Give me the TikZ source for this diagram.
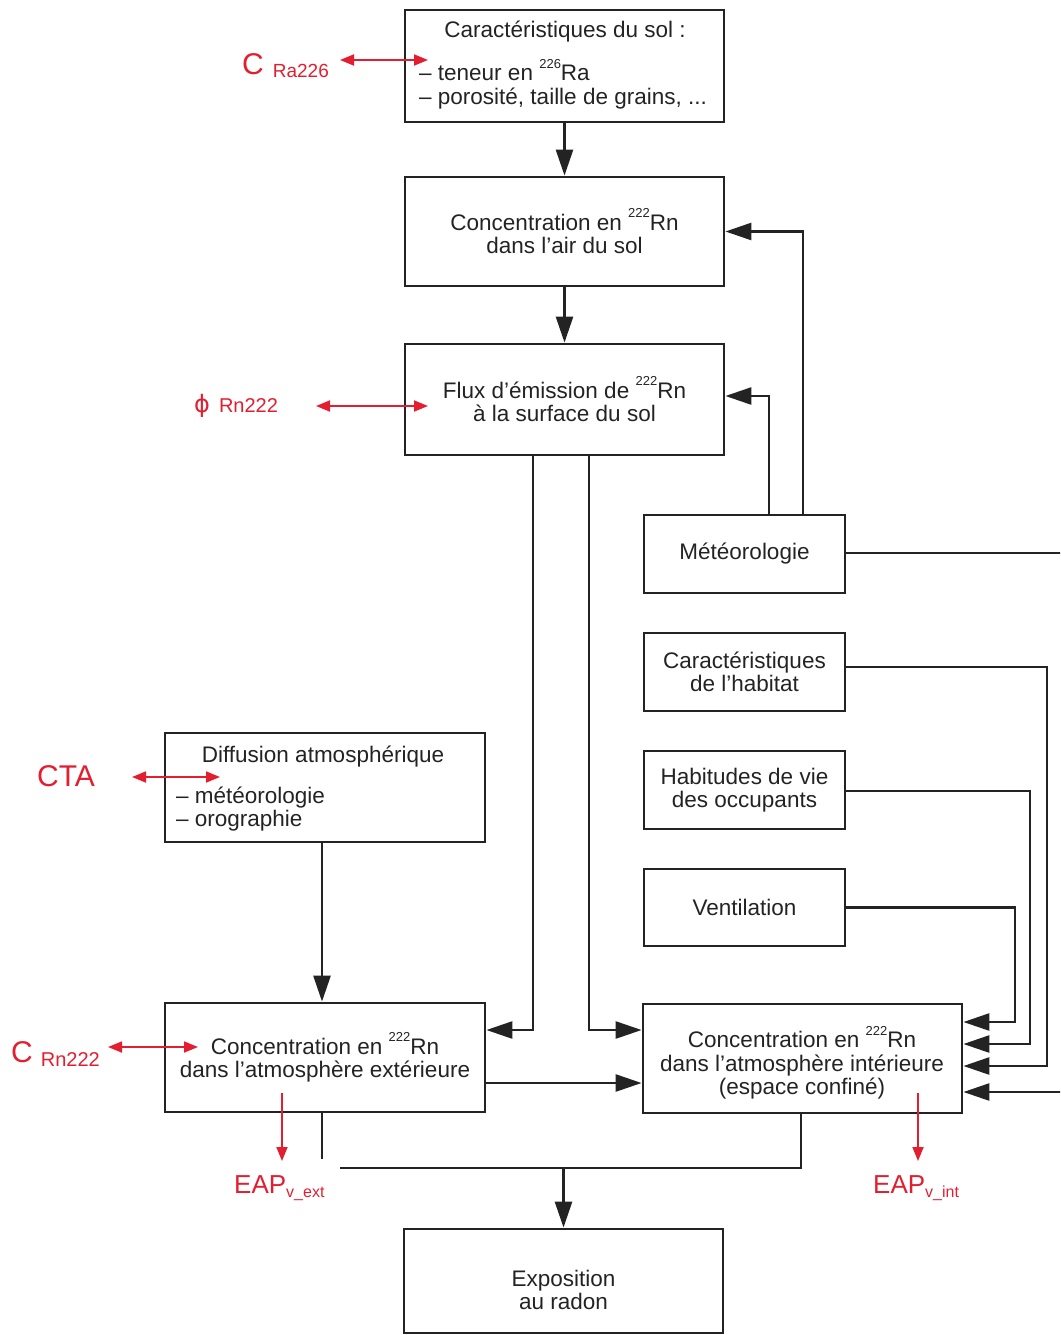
\documentclass[tikz,border=0pt]{standalone}
\usepackage{fontspec}
\setmainfont{Liberation Sans}
\newfontfamily\symfont{DejaVu Sans}
\usetikzlibrary{arrows.meta}
\definecolor{rd}{RGB}{226,30,48}
\definecolor{ink}{RGB}{35,35,35}
\newcommand{\iso}[1]{\raisebox{0.55em}{\fontsize{13}{13}\selectfont #1}}
\tikzset{
  box/.style={draw=ink, line width=2.8pt, inner sep=0pt},
  txt/.style={font=\fontsize{22.5}{23.5}\selectfont, text=ink, align=center, inner sep=0pt},
  conn/.style={draw=ink, line width=2.6pt, -{Triangle[length=26pt,width=17pt]}},
  plain/.style={draw=ink, line width=2.6pt},
  redarr/.style={draw=rd, line width=1.8pt, {Triangle[length=14pt,width=11pt]}-{Triangle[length=14pt,width=11pt]}},
  reddown/.style={draw=rd, line width=1.8pt, -{Triangle[length=14pt,width=11pt]}},
  redlab/.style={text=rd, inner sep=0pt, anchor=base west}
}
\begin{document}
\begin{tikzpicture}[x=1pt,y=-1pt]
\useasboundingbox (0,0) rectangle (1060,1335);
\clip (0,0) rectangle (1060,1335);

% main column boxes
\node[box, minimum width=319pt, minimum height=112pt] (b1) at (564.5,66) {};
\node[txt] (b1t) at (565,32) {Caractéristiques du sol :};
\node[txt, align=left, anchor=west] (b1l) at (419,84) {– teneur en \iso{226}Ra\\– porosité, taille de grains, ...};

\node[box, txt, minimum width=319pt, minimum height=109pt] (b2) at (564.5,231.5) {Concentration en \iso{222}Rn\\dans l'air du sol};
\node[box, txt, minimum width=319pt, minimum height=111pt] (b3) at (564.5,399.5) {Flux d'émission de \iso{222}Rn\\à la surface du sol};

% right column boxes
\node[box, txt, minimum width=201pt, minimum height=78pt] (meteo) at (744.5,554) {Météorologie};
\node[box, txt, minimum width=201pt, minimum height=78pt] (habitat) at (744.5,672) {Caractéristiques\\de l'habitat};
\node[box, txt, minimum width=201pt, minimum height=78pt] (habitudes) at (744.5,790) {Habitudes de vie\\des occupants};
\node[box, txt, minimum width=201pt, minimum height=77pt] (ventil) at (744.5,907.5) {Ventilation};

% left boxes
\node[box, minimum width=320pt, minimum height=109pt] (diff) at (325,787.5) {};
\node[txt] (difft) at (323,757) {Diffusion atmosphérique};
\node[txt, align=left, anchor=west] (diffl) at (176,809) {– météorologie\\– orographie};

\node[box, txt, minimum width=320pt, minimum height=109pt] (ext) at (325,1057.5) {Concentration en \iso{222}Rn\\dans l'atmosphère extérieure};
\node[box, minimum width=319pt, minimum height=109pt] (int) at (802.5,1058.5) {};
\node[txt] (intt) at (802,1063) {Concentration en \iso{222}Rn\\dans l'atmosphère intérieure\\(espace confiné)};

\node[box, minimum width=319pt, minimum height=104pt] (expo) at (563.5,1281) {};
\node[txt] (expot) at (563.5,1290) {Exposition\\au radon};

% black connectors
\draw[conn] (b1.south) -- (b2.north);
\draw[conn] (b2.south) -- (b3.north);
\draw[conn] ([xshift=58.5pt]meteo.north) |- (b2.east);
\draw[conn] ([xshift=24.5pt]meteo.north) |- ([yshift=3.5pt]b3.east);
\draw[conn] ([xshift=-31.5pt]b3.south) |- ([yshift=27.5pt]ext.east);
\draw[conn] ([xshift=24.5pt]b3.south) |- ([yshift=28.5pt]int.west);
\draw[conn] ([yshift=-25.5pt]ext.east) -- ([yshift=-25.5pt]ext.east -| int.west);
\draw[conn] ([xshift=-3pt]diff.south) -- ([xshift=-3pt]ext.north);

\draw[conn] (ventil.east) -- (1015,907.5) |- ([yshift=36.5pt]int.east);
\draw[conn] ([yshift=-1pt]habitudes.east) -- (1030,791) |- ([yshift=14.5pt]int.east);
\draw[conn] ([yshift=5pt]habitat.east) -- (1047,667) |- ([yshift=-7.5pt]int.east);
\draw[conn] ([yshift=1pt]meteo.east) -- (1075,553) |- ([yshift=-33.5pt]int.east);

\draw[plain] ([xshift=-3pt]ext.south) -- ++(0,46);
\coordinate (hs) at (340,1168);
\draw[plain] (hs) -| ([xshift=-1.5pt]int.south);
\coordinate (hj) at (563.5,1168);
\draw[conn] (hj) -- (expo.north);

% red labels
\node[redlab] (cra) at (242,75) {\fontsize{30}{30}\selectfont C\hspace{9pt}\raisebox{-3pt}{\fontsize{19}{19}\selectfont Ra226}};
\node[redlab] (phirn) at (194,412) {{\symfont\fontsize{24}{24}\selectfont ϕ}\hspace{9pt}{\fontsize{20}{20}\selectfont Rn222}};
\node[redlab] (cta) at (37,786) {\fontsize{30}{30}\selectfont CTA};
\node[redlab] (crn) at (11,1062) {\fontsize{30}{30}\selectfont C\hspace{8pt}\raisebox{-4pt}{\fontsize{20}{20}\selectfont Rn222}};
\node[redlab] (eapext) at (234,1193) {\fontsize{26}{26}\selectfont EAP\raisebox{-4pt}{\fontsize{16}{16}\selectfont v\_ext}};
\node[redlab] (eapint) at (873,1193) {\fontsize{26}{26}\selectfont EAP\raisebox{-4pt}{\fontsize{16}{16}\selectfont v\_int}};

% red arrows
\coordinate (craA) at (340,60);  \coordinate (craB) at (428,60);
\draw[redarr] (craA) -- (craB);
\coordinate (phA) at (316,406);  \coordinate (phB) at (428,406);
\draw[redarr] (phA) -- (phB);
\coordinate (ctaA) at (132,777); \coordinate (ctaB) at (220,777);
\draw[redarr] (ctaA) -- (ctaB);
\coordinate (crnA) at (108,1047); \coordinate (crnB) at (198,1047);
\draw[redarr] (crnA) -- (crnB);
\coordinate (eeA) at (282,1093); \coordinate (eeB) at (282,1161);
\draw[reddown] (eeA) -- (eeB);
\coordinate (eiA) at (918,1093); \coordinate (eiB) at (918,1161);
\draw[reddown] (eiA) -- (eiB);
\end{tikzpicture}
\end{document}
